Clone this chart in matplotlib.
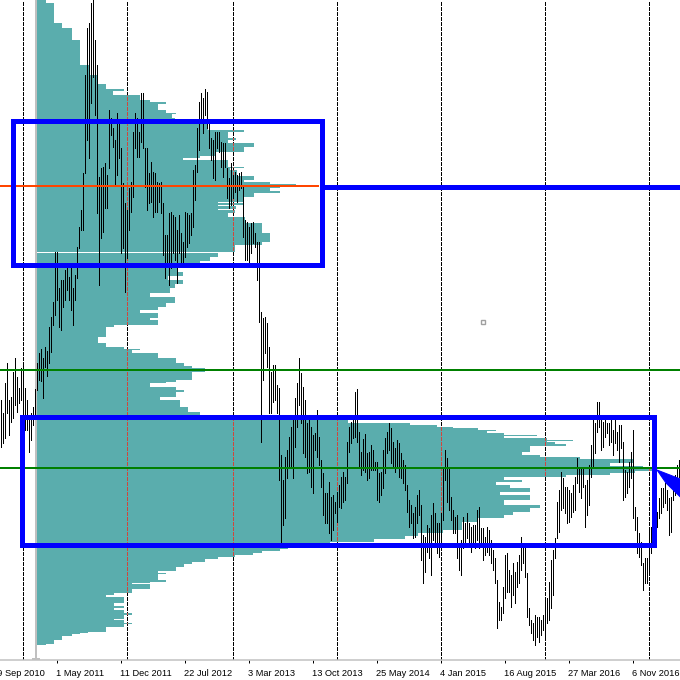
import numpy as np
import matplotlib
matplotlib.use('Agg')
import matplotlib.pyplot as plt
from matplotlib.path import Path
from matplotlib.patches import Rectangle, Polygon

# weekly bars (high / low), bar 0 = mid Sep 2010
highs = [1500, 1487, 1517, 1537, 1500, 1503, 1528, 1542, 1523, 1512,
         1532, 1537, 1512, 1500, 1482, 1487, 1493, 1511, 1537, 1547,
         1551, 1542, 1553, 1549, 1573, 1583, 1598, 1648, 1648, 1612,
         1620, 1620, 1630, 1632, 1623, 1633, 1612, 1625, 1653, 1673,
         1690, 1727, 1825, 1872, 1877, 1897, 1903, 1860, 1835, 1723,
         1732, 1733, 1737, 1725, 1790, 1782, 1772, 1760, 1787, 1777,
         1752, 1717, 1697, 1690, 1712, 1718, 1768, 1787, 1782, 1768,
         1807, 1807, 1752, 1752, 1727, 1738, 1728, 1727, 1718, 1717,
         1718, 1697, 1665, 1665, 1687, 1688, 1685, 1683, 1670, 1685,
         1667, 1658, 1688, 1687, 1685, 1687, 1730, 1735, 1772, 1798,
         1807, 1802, 1811, 1808, 1778, 1762, 1760, 1768, 1768, 1768,
         1758, 1757, 1757, 1732, 1722, 1737, 1725, 1728, 1725, 1727,
         1728, 1713, 1680, 1678, 1673, 1677, 1678, 1667, 1658, 1658,
         1588, 1582, 1583, 1577, 1553, 1528, 1535, 1535, 1515, 1512,
         1445, 1420, 1443, 1450, 1463, 1473, 1480, 1502, 1517, 1542,
         1527, 1513, 1500, 1477, 1482, 1473, 1465, 1467, 1490, 1463,
         1440, 1427, 1407, 1407, 1418, 1403, 1405, 1398, 1408, 1415,
         1423, 1428, 1423, 1458, 1473, 1478, 1482, 1508, 1511, 1468,
         1448, 1461, 1466, 1447, 1448, 1455, 1450, 1438, 1438, 1427,
         1428, 1450, 1462, 1468, 1477, 1472, 1458, 1452, 1460, 1457,
         1447, 1440, 1435, 1415, 1400, 1395, 1387, 1393, 1405, 1410,
         1395, 1365, 1363, 1375, 1372, 1385, 1397, 1387, 1377, 1377,
         1387, 1433, 1450, 1442, 1433, 1403, 1390, 1383, 1385, 1352,
         1360, 1383, 1377, 1387, 1377, 1373, 1375, 1375, 1390, 1393,
         1372, 1372, 1363, 1373, 1370, 1360, 1350, 1342, 1320, 1298,
         1293, 1313, 1345, 1347, 1330, 1325, 1337, 1328, 1338, 1345,
         1363, 1357, 1353, 1327, 1292, 1280, 1277, 1285, 1283, 1283,
         1280, 1285, 1303, 1302, 1318, 1340, 1350, 1362, 1398, 1410,
         1428, 1422, 1413, 1413, 1410, 1407, 1415, 1423, 1442, 1433,
         1432, 1433, 1415, 1420, 1435, 1455, 1482, 1477, 1498, 1498,
         1482, 1478, 1483, 1477, 1477, 1482, 1470, 1480, 1468, 1475,
         1475, 1458, 1430, 1428, 1438, 1448, 1470, 1393, 1383, 1367,
         1358, 1337, 1342, 1342, 1373, 1373, 1380, 1385, 1388, 1402,
         1412, 1412, 1417, 1410, 1402, 1403, 1417, 1425, 1435, 1440]
lows = [1453, 1457, 1462, 1487, 1465, 1478, 1482, 1495, 1488, 1497,
        1500, 1468, 1470, 1470, 1448, 1460, 1475, 1485, 1510, 1520,
        1519, 1502, 1533, 1524, 1537, 1548, 1575, 1585, 1600, 1573,
        1570, 1593, 1600, 1610, 1600, 1590, 1575, 1600, 1622, 1652,
        1670, 1670, 1727, 1760, 1742, 1797, 1823, 1785, 1687, 1615,
        1662, 1668, 1692, 1692, 1732, 1765, 1753, 1715, 1725, 1742,
        1647, 1652, 1608, 1642, 1670, 1688, 1703, 1752, 1743, 1743,
        1758, 1752, 1713, 1690, 1697, 1698, 1683, 1688, 1688, 1698,
        1687, 1645, 1622, 1633, 1615, 1632, 1647, 1640, 1617, 1647,
        1633, 1638, 1643, 1653, 1657, 1665, 1673, 1700, 1728, 1750,
        1780, 1767, 1785, 1772, 1752, 1740, 1722, 1720, 1752, 1748,
        1733, 1723, 1733, 1702, 1692, 1695, 1702, 1708, 1698, 1710,
        1712, 1663, 1640, 1640, 1638, 1647, 1657, 1653, 1620, 1578,
        1458, 1520, 1547, 1533, 1487, 1487, 1498, 1500, 1487, 1420,
        1358, 1375, 1382, 1422, 1432, 1432, 1422, 1453, 1473, 1495,
        1477, 1447, 1443, 1427, 1428, 1413, 1407, 1450, 1443, 1435,
        1413, 1385, 1377, 1377, 1367, 1360, 1370, 1387, 1378, 1393,
        1392, 1398, 1400, 1417, 1448, 1457, 1462, 1463, 1458, 1432,
        1425, 1430, 1428, 1420, 1422, 1430, 1430, 1430, 1400, 1398,
        1405, 1412, 1427, 1447, 1450, 1437, 1433, 1428, 1433, 1423,
        1422, 1417, 1410, 1388, 1373, 1377, 1362, 1363, 1377, 1385,
        1340, 1317, 1328, 1348, 1342, 1325, 1360, 1357, 1347, 1343,
        1350, 1380, 1420, 1398, 1390, 1380, 1367, 1367, 1342, 1330,
        1325, 1352, 1353, 1362, 1353, 1348, 1353, 1352, 1360, 1352,
        1353, 1340, 1345, 1348, 1345, 1337, 1330, 1317, 1272, 1280,
        1280, 1287, 1302, 1308, 1308, 1293, 1305, 1297, 1313, 1317,
        1330, 1337, 1323, 1283, 1275, 1267, 1260, 1255, 1263, 1258,
        1265, 1270, 1263, 1277, 1280, 1292, 1305, 1342, 1362, 1368,
        1390, 1392, 1387, 1377, 1378, 1383, 1388, 1390, 1417, 1408,
        1402, 1413, 1373, 1385, 1395, 1423, 1433, 1447, 1468, 1473,
        1450, 1453, 1463, 1467, 1455, 1458, 1445, 1457, 1450, 1438,
        1452, 1400, 1403, 1407, 1413, 1422, 1382, 1370, 1347, 1343,
        1335, 1310, 1317, 1317, 1328, 1347, 1355, 1365, 1373, 1382,
        1387, 1393, 1397, 1390, 1365, 1368, 1400, 1405, 1413, 1423]

# volume profile: price level edges (top to bottom) and volume per row
prof_edges = [1900, 1897, 1877, 1872, 1860, 1835, 1825, 1816, 1811, 1809,
              1805, 1800, 1798, 1796, 1790, 1787, 1786, 1782, 1778, 1770,
              1768, 1762, 1760, 1757, 1753, 1748, 1744, 1742, 1740, 1733,
              1732, 1730, 1724, 1720, 1718, 1716, 1715, 1712, 1709, 1707,
              1703, 1698, 1697, 1695, 1694, 1691, 1690, 1687, 1683, 1677,
              1667, 1658, 1655, 1648, 1647, 1643, 1639, 1636, 1632, 1628,
              1624, 1620, 1616, 1612, 1607, 1603, 1597, 1593, 1590, 1587,
              1582, 1580, 1575, 1573, 1563, 1557, 1553, 1551, 1550, 1547,
              1542, 1537, 1534, 1532, 1528, 1520, 1518, 1517, 1513, 1510,
              1508, 1503, 1500, 1493, 1488, 1485, 1480, 1477, 1475, 1473,
              1472, 1470, 1469, 1467, 1465, 1464, 1462, 1460, 1459, 1458,
              1456, 1454, 1448, 1445, 1443, 1441, 1437, 1434, 1432, 1429,
              1427, 1425, 1423, 1420, 1418, 1415, 1412, 1408, 1405, 1400,
              1395, 1392, 1388, 1385, 1382, 1378, 1373, 1370, 1367, 1364,
              1361, 1358, 1353, 1351, 1349, 1347, 1345, 1343, 1341, 1338,
              1336, 1333, 1329, 1327, 1326, 1320, 1318, 1317, 1316, 1311,
              1307, 1305, 1303, 1297, 1294, 1292, 1290, 1287, 1285, 1281,
              1280, 1277, 1276, 1273, 1268, 1267, 1266, 1264, 1260, 1256,
              1255]
prof_vol = [9, 17, 25, 35, 43, 53, 61, 69, 87, 76,
            103, 113, 129, 121, 129, 139, 135, 138, 171, 207,
            191, 199, 191, 217, 207, 178, 163, 146, 191, 207,
            193, 200, 217, 207, 233, 259, 243, 233, 243, 217,
            207, 181, 207, 181, 199, 181, 198, 191, 208, 225,
            233, 225, 198, 0, 181, 173, 163, 153, 141, 146,
            131, 146, 138, 133, 113, 138, 129, 121, 103, 121,
            113, 121, 77, 69, 61, 69, 87, 103, 95, 121,
            139, 147, 155, 168, 155, 139, 129, 113, 139, 147,
            139, 123, 143, 151, 163, 243, 311, 373, 400, 416,
            441, 459, 450, 467, 500, 467, 510, 536, 510, 518,
            529, 493, 485, 503, 543, 596, 573, 606, 616, 598,
            573, 529, 467, 485, 459, 473, 493, 463, 493, 467,
            503, 493, 476, 467, 441, 425, 425, 406, 381, 368,
            337, 293, 251, 243, 225, 216, 198, 181, 168, 155,
            147, 139, 121, 129, 121, 129, 113, 95, 113, 95,
            77, 69, 87, 77, 87, 77, 87, 95, 87, 77,
            87, 95, 87, 69, 51, 43, 35, 25, 17, 9]

date_labels = ['19 Sep 2010', '1 May 2011', '11 Dec 2011', '22 Jul 2012',
               '3 Mar 2013', '13 Oct 2013', '25 May 2014', '4 Jan 2015',
               '16 Aug 2015', '27 Mar 2016', '6 Nov 2016']
date_bars = [-4, 28, 60, 92, 124, 156, 188, 220, 252, 284, 316]
grid_bars = [11, 63, 116, 168, 220, 272, 324]

profile_anchor = 17.75
poc_price = 1714
poc_end = 158.75
level_line = 1713.5
green_levels = [1530, 1432]
zone_top = (6.0, 160.5, 1635.5, 1779.5)
zone_bottom = (10.5, 326.5, 1355.5, 1483.5)

plt.rcParams['font.family'] = 'Liberation Sans'
PX = 0.72  # one pixel in points at 100 dpi

fig = plt.figure(figsize=(6.8, 6.8), dpi=100)
ax = fig.add_axes([0, 20 / 680, 1, 660 / 680])
ax.set_xlim(-0.25, 339.75)
ax.set_ylim(1240, 1900)

TEAL = '#5aadad'
dash = (0, (3, 2))

# grid (black, behind the profile)
for g in grid_bars:
    ax.plot([g, g], [1240, 1900], color='black', lw=PX, ls=dash, zorder=0.5,
            antialiased=False)

# volume profile
edges = np.array(prof_edges, dtype=float)
vol = np.array(prof_vol, dtype=float) / 2.0
hi = edges[:-1]
lo = edges[1:]
left = profile_anchor + 0.5
ax.barh((hi + lo) / 2, vol, height=hi - lo, left=left, color=TEAL,
        edgecolor='none', linewidth=0, zorder=1)

# grid drawn reddish where it crosses the profile
verts, codes = [], []
for h, l, w in zip(hi, lo, vol):
    if w <= 0:
        continue
    verts += [(left, l), (left + w, l), (left + w, h), (left, h), (left, l)]
    codes += [Path.MOVETO, Path.LINETO, Path.LINETO, Path.LINETO, Path.CLOSEPOLY]
clip = Path(verts, codes)
for g in grid_bars:
    ln, = ax.plot([g, g], [1240, 1900], color='#d2453c', lw=PX, ls=dash, zorder=1.5,
                  antialiased=False)
    ln.set_clip_path(clip, ax.transData)

# profile anchor line
ax.plot([profile_anchor, profile_anchor], [1240, 1900], color='#c0c0c0', lw=2 * PX, zorder=1.6)
ax.plot([16.25, 19.25], [1241, 1241], color='#c0c0c0', lw=2 * PX, zorder=1.6, clip_on=False)

# price bars
x = np.arange(len(highs))
ax.vlines(x, lows, highs, color='black', lw=PX, zorder=2, antialiased=False)

# levels
ax.plot([-0.25, poc_end], [poc_price, poc_price], color='#ff4500', lw=2 * PX, zorder=3)
for g in green_levels:
    ax.axhline(g, color='#008000', lw=2 * PX, zorder=3)
ax.plot([zone_top[1], 339.75], [level_line, level_line], color='#0000ff', lw=5 * PX,
        zorder=4, solid_capstyle='butt')

for x0, x1, y0, y1 in (zone_top, zone_bottom):
    ax.add_patch(Rectangle((x0, y0), x1 - x0, y1 - y0, fill=False, edgecolor='#0000ff',
                           lw=5 * PX, joinstyle='miter', zorder=4))

# arrow object
ax.add_patch(Polygon([(328.25, 1430), (339.9, 1421), (339.9, 1403), (332.75, 1417)],
                     closed=True, facecolor='#0000ff', edgecolor='#0000ff', lw=PX,
                     zorder=5, clip_on=False))
# selected object point
ax.plot([241.25], [1578], marker='s', ms=3.5, mfc='white', mec='#a0a0a0', mew=1.0, zorder=5)

# axes styling
for s in ['top', 'left', 'right']:
    ax.spines[s].set_visible(False)
ax.spines['bottom'].set_color('#c0c0c0')
ax.spines['bottom'].set_linewidth(1.5 * PX)
ax.set_yticks([])
ax.set_xticks([b for b in date_bars if b >= 0])
ax.set_xticklabels([])
ax.tick_params(axis='x', direction='out', length=3 * PX, width=PX, color='black')
for b, lab in zip(date_bars, date_labels):
    ax.text(b - 0.1, 1224, lab, ha='left', va='baseline', fontsize=6.7,
            color='black', clip_on=False)

fig.savefig('out.png', dpi=100, facecolor='white')
